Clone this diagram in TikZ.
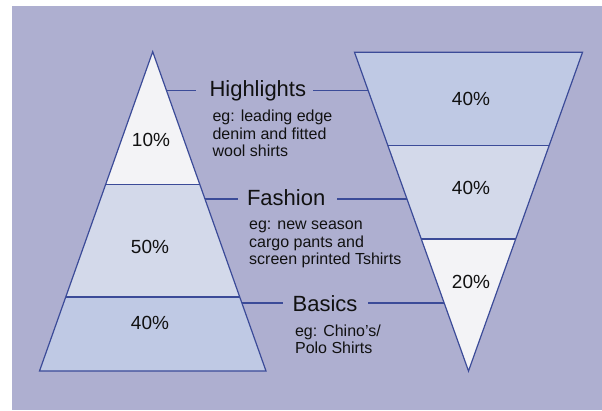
\documentclass[tikz,border=0pt]{standalone}
\usepackage{fontspec}
\setmainfont{Liberation Sans}
\usetikzlibrary{calc}
\definecolor{bgl}{HTML}{AEAFD0}
\definecolor{bandA}{HTML}{BFC9E4}
\definecolor{bandB}{HTML}{D3D9EA}
\definecolor{bandC}{HTML}{F3F3F6}
\definecolor{lineblue}{HTML}{3B4B98}
\definecolor{ink}{HTML}{111111}
\tikzset{
  outline/.style={draw=lineblue, line width=1.2pt, line join=miter},
  conn/.style={draw=lineblue, line width=1.2pt},
  title/.style={anchor=base west, inner sep=0pt, font=\fontsize{22}{26}\selectfont, text=ink},
  note/.style={anchor=base west, inner sep=0pt, text=ink},
  pct/.style={inner sep=0pt, font=\fontsize{19}{22}\selectfont, text=ink},
}
\newcommand{\notetext}[1]{\parbox[t]{170pt}{\fontsize{16}{17.5}\selectfont\raggedright #1}}
\begin{document}
\begin{tikzpicture}[x=1pt,y=-1pt]
  \useasboundingbox (0,0) rectangle (602,410);
  \fill[white] (0,0) rectangle (602,410);
  \fill[bgl] (12,5.7) rectangle (602,410);

  % upright pyramid
  \fill[bandC] (152.7,51.7) -- (199.7,184.3) -- (105.7,184.3) -- cycle;
  \fill[bandB] (105.7,184.3) -- (199.7,184.3) -- (239.7,297) -- (65.7,297) -- cycle;
  \fill[bandA] (65.7,297) -- (239.7,297) -- (266,371) -- (39.5,371) -- cycle;
  \draw[outline] (152.7,51.7) -- (266,371) -- (39.5,371) -- cycle;
  \draw[outline] (105.7,184.3) -- (199.7,184.3);
  \draw[outline] (65.7,297) -- (239.7,297);

  % inverted pyramid
  \fill[bandA] (354.5,52.3) -- (582.5,52.3) -- (549.2,145.3) -- (387.8,145.3) -- cycle;
  \fill[bandB] (387.8,145.3) -- (549.2,145.3) -- (515.7,239) -- (421.3,239) -- cycle;
  \fill[bandC] (421.3,239) -- (515.7,239) -- (468.5,371) -- cycle;
  \draw[outline] (354.5,52.3) -- (582.5,52.3) -- (468.5,371) -- cycle;
  \draw[outline] (387.8,145.3) -- (549.2,145.3);
  \draw[outline] (421.3,239) -- (515.7,239);

  % percentages
  \node[pct] (l1) at (151,140) {10\%};
  \node[pct] (l2) at (150,247) {50\%};
  \node[pct] (l3) at (150,323) {40\%};
  \node[pct] (r1) at (471,99) {40\%};
  \node[pct] (r2) at (471,188) {40\%};
  \node[pct] (r3) at (471,282) {20\%};

  % category titles and notes
  \node[title] (hl) at (209.3,96.7) {Highlights};
  \node[note] (hln) at (212.4,121.7) {\notetext{eg: leading edge\\denim and fitted\\wool shirts}};
  \node[title] (fs) at (246.8,205.7) {Fashion};
  \node[note] (fsn) at (249,229.5) {\notetext{eg: new season\\cargo pants and\\screen printed Tshirts}};
  \node[title] (bs) at (292.4,311.7) {Basics};
  \node[note] (bsn) at (294.9,336) {\notetext{eg: Chino’s/\\Polo Shirts}};

  % points on the pyramid edges where the leaders meet
  \coordinate (hlL) at (166.4,90.3);
  \coordinate (hlR) at (368.1,90.3);
  \coordinate (fsL) at (204.9,199);
  \coordinate (fsR) at (407.0,199);
  \coordinate (bsL) at (241.8,303);
  \coordinate (bsR) at (444.2,303);

  % leaders
  \draw[conn, shorten >=13.7pt] (hlL) -- (hlL -| hl.west);
  \draw[conn, shorten <=7.1pt] (hlR -| hl.east) -- (hlR);
  \draw[conn, shorten >=8.8pt] (fsL) -- (fsL -| fs.west);
  \draw[conn, shorten <=11.8pt] (fsR -| fs.east) -- (fsR);
  \draw[conn, shorten >=9.4pt] (bsL) -- (bsL -| bs.west);
  \draw[conn, shorten <=10.4pt] (bsR -| bs.east) -- (bsR);
\end{tikzpicture}
\end{document}
